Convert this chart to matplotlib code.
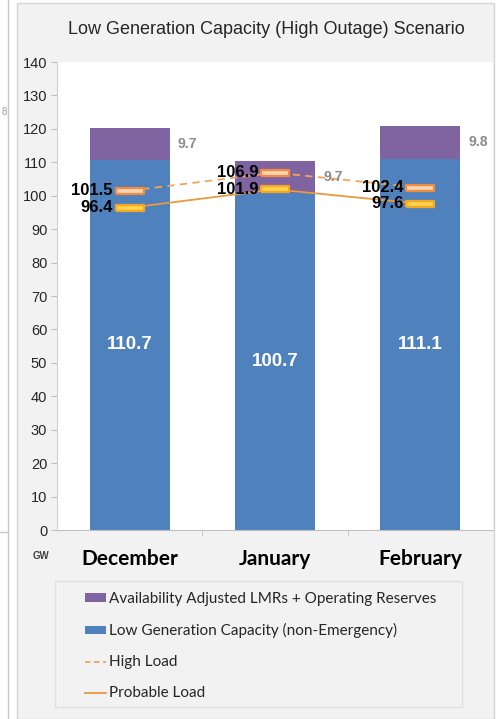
import matplotlib.pyplot as plt
from matplotlib.patches import Rectangle, Patch
from matplotlib.lines import Line2D
import numpy as np

months = ["December", "January", "February"]
gen_capacity = np.array([110.7, 100.7, 111.1])
lmr_reserves = np.array([9.7, 9.7, 9.8])
high_load = np.array([101.5, 106.9, 102.4])
probable_load = np.array([96.4, 101.9, 97.6])

blue = "#4f81bd"
purple = "#8064a2"
panel_gray = "#f2f2f2"

fig = plt.figure(figsize=(5.01, 7.19), dpi=100)
fig.patch.set_facecolor("white")

# grey panel behind the chart
W, H = 501, 719
fig.add_artist(Rectangle((17 / W, 0), (494 - 17) / W, 1 - 3 / H,
                         transform=fig.transFigure, facecolor=panel_gray,
                         edgecolor="#d4d4d4", lw=1, zorder=0))
# edge of the neighbouring panel
fig.add_artist(Line2D([8 / W, 8 / W], [0, 1], transform=fig.transFigure,
                      color="#c8c8c8", lw=1))
fig.add_artist(Line2D([0, 8 / W], [1 - 532 / H] * 2, transform=fig.transFigure,
                      color="#c8c8c8", lw=1))
fig.text(4 / W, 1 - 112 / H, "8", color="#a0a0a0", fontsize=7,
         ha="center", va="center", family="Liberation Sans")

ax = fig.add_axes([57 / W, 1 - 530 / H, (493 - 57) / W, (530 - 62) / H])
ax.set_facecolor("white")

x = np.arange(len(months))
bw = 0.55
ax.bar(x, gen_capacity, bw, color=blue, zorder=2,
       label="Low Generation Capacity (non-Emergency)")
ax.bar(x, lmr_reserves, bw, bottom=gen_capacity, color=purple, zorder=2,
       label="Availability Adjusted LMRs + Operating Reserves")

ax.plot(x, high_load, color="#f4a35a", lw=1.3, ls=(0, (4, 3)), zorder=3)
ax.plot(x, probable_load, color="#e89a3c", lw=1.3, zorder=3)

bar_marker = [(-1, -0.22), (1, -0.22), (1, 0.22), (-1, 0.22), (-1, -0.22)]
ax.plot(x, high_load, ls="none", marker=bar_marker, ms=20,
        mfc="#fcd5b4", mec="#f28c3c", mew=1.6, zorder=4)
ax.plot(x, probable_load, ls="none", marker=bar_marker, ms=20,
        mfc="#ffd24d", mec="#f5a623", mew=1.6, zorder=4)

# value labels
for i in range(len(months)):
    ax.text(x[i], gen_capacity[i] / 2, f"{gen_capacity[i]:.1f}", color="white",
            fontsize=13.5, fontweight="bold", ha="center", va="center",
            family="Liberation Sans", zorder=5)
    ax.annotate(f"{lmr_reserves[i]:.1f}",
                (x[i] + bw / 2, gen_capacity[i] + lmr_reserves[i] / 2),
                xytext=(6, 0), textcoords="offset points", color="#8a8a8a",
                fontsize=10, fontweight="bold", ha="left", va="center",
                family="Liberation Sans", zorder=5)
    for val in (high_load[i], probable_load[i]):
        ax.annotate(f"{val:.1f}", (x[i], val), xytext=(-12, 0),
                    textcoords="offset points", color="black", fontsize=12,
                    fontweight="bold", ha="right", va="center",
                    family="Liberation Sans", zorder=5)

ax.set_xlim(-0.5, 2.5)
ax.set_ylim(0, 140)
ax.set_yticks(np.arange(0, 141, 10))
ax.tick_params(axis="y", labelsize=10.5, length=4, color="#bfbfbf", pad=3,
               labelcolor="#262626")
for lab in ax.get_yticklabels():
    lab.set_family("Liberation Sans")
ax.set_xticks(x)
ax.set_xticklabels(months, fontsize=15, fontweight="bold", family="Lato")
ax.tick_params(axis="x", length=0, pad=14)
ax.set_xticks([0.5, 1.5], minor=True)
ax.tick_params(axis="x", which="minor", length=4, color="#bfbfbf")

for side in ("top", "right"):
    ax.spines[side].set_visible(False)
ax.spines["left"].set_color("#d0d0d0")
ax.spines["bottom"].set_color("#bfbfbf")

fig.text(266 / W, 1 - 30 / H, "Low Generation Capacity (High Outage) Scenario",
         ha="center", va="center", fontsize=13, family="Liberation Sans",
         color="#262626")
fig.text(41 / W, 1 - 556 / H, "GW", ha="center", va="center", fontsize=7,
         fontweight="bold", family="Liberation Sans", color="#404040")

# legend box
fig.add_artist(Rectangle((55 / W, 1 - 707 / H), (462 - 55) / W, (707 - 581) / H,
                         transform=fig.transFigure, facecolor=panel_gray,
                         edgecolor="#e0e0e0", lw=1, zorder=1))
handles = [
    Patch(facecolor=purple, label="Availability Adjusted LMRs + Operating Reserves"),
    Patch(facecolor=blue, label="Low Generation Capacity (non-Emergency)"),
    Line2D([], [], color="#f4a35a", lw=1.3, ls=(0, (3, 2)), label="High Load"),
    Line2D([], [], color="#e89a3c", lw=1.3, label="Probable Load"),
]
leg = fig.legend(handles=handles, loc="upper left",
                 bbox_to_anchor=(85 / W, 1 - 592 / H), frameon=False,
                 prop={"family": "Lato", "size": 11}, labelspacing=1.12,
                 handlelength=1.4, handleheight=0.45, handletextpad=0.15,
                 borderpad=0, borderaxespad=0)
for t in leg.get_texts():
    t.set_color("#262626")

fig.savefig("out.png", dpi=100)
